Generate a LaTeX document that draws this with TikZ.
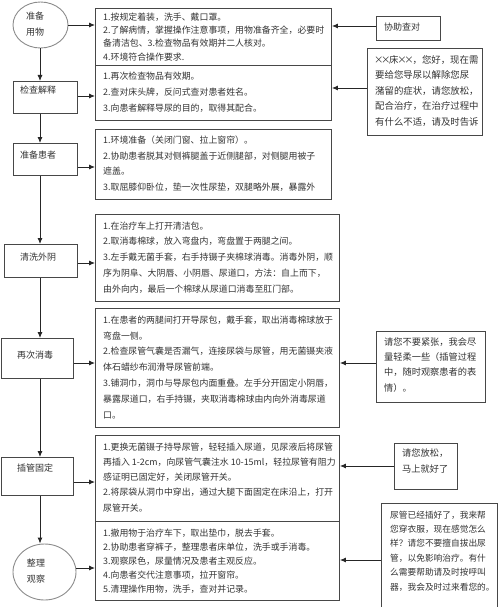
\documentclass[tikz,border=0pt]{standalone}
\usepackage{fontspec}
\setmainfont{Noto Sans CJK SC}
\usetikzlibrary{arrows.meta,shapes.geometric}
\newcommand{\xmark}{\makebox[7pt]{×}}
\begin{document}
\begin{tikzpicture}[x=1pt,y=-1pt,
  frame/.style={draw=black!72, line width=0.9pt, rectangle, inner sep=0pt, anchor=north west},
  oval/.style={draw=black!45, line width=0.9pt, ellipse, inner sep=0pt},
  arr/.style={draw=black!85, line width=0.9pt, -{Latex[length=6pt,width=5pt]}},
  body/.style={anchor=north west, inner sep=0pt, align=left, text=black!80},
  tag/.style={anchor=west, inner sep=0pt, text=black!80, font=\fontsize{9}{11}\selectfont}
]
\useasboundingbox (0,0) rectangle (500,607);
\fill[white] (0,0) rectangle (500,607);

% ---------- left column ----------
\node[oval, minimum width=55, minimum height=46] (E1) at (40.5,25) {};
\node[tag, anchor=center, align=center, font=\fontsize{9}{16}\selectfont] (E1t) at (35,24) {准备\\用物};
\node[frame, minimum width=64, minimum height=32] (L2) at (13,81) {};
\node[tag] (L2t) at (20,90) {检查解释};
\node[frame, minimum width=64, minimum height=32] (L3) at (13,143) {};
\node[tag] (L3t) at (20,155) {准备患者};
\node[frame, minimum width=73, minimum height=33] (L4) at (4,244) {};
\node[tag] (L4t) at (20,257) {清洗外阴};
\node[frame, minimum width=72.5, minimum height=40] (L5) at (0.5,338) {};
\node[tag] (L5t) at (17,355) {再次消毒};
\node[frame, minimum width=72.5, minimum height=38] (L6) at (0.5,457) {};
\node[tag] (L6t) at (17,468) {插管固定};
\node[oval, minimum width=63, minimum height=56] (E7) at (44.5,572) {};
\node[tag, anchor=center, align=center, font=\fontsize{9}{16}\selectfont] (E7t) at (36,571) {整理\\观察};

% ---------- detail boxes ----------
\node[frame, minimum width=236, minimum height=57] (b1) at (95,8) {};
\node[frame, minimum width=236, minimum height=55] (b2) at (95,65) {};
\node[frame, minimum width=236, minimum height=70] (b3) at (95,129) {};
\node[frame, minimum width=244, minimum height=87] (b4) at (95,214) {};
\node[frame, minimum width=244, minimum height=119] (b5) at (95,308) {};
\node[frame, minimum width=244, minimum height=86] (b6) at (95,435) {};
\node[frame, minimum width=244, minimum height=79] (b7) at (95,521) {};

\node[body, font=\fontsize{8.9}{13.3}\selectfont] (b1t) at (103,12.5) {1.按规定着装，洗手、戴口罩。\\2.了解病情，掌握操作注意事项，用物准备齐全，必要时\\备清洁包、3.检查物品有效期并二人核对。\\4.环境符合操作要求.};
\node[body, font=\fontsize{8.9}{16}\selectfont] (b2t) at (103,71.5) {1.再次检查物品有效期。\\2.查对床头牌，反问式查对患者姓名。\\3.向患者解释导尿的目的，取得其配合。};
\node[body, font=\fontsize{8.9}{15.7}\selectfont] (b3t) at (103,135.5) {1.环境准备（关闭门窗、拉上窗帘）。\\2.协助患者脱其对侧裤腿盖于近侧腿部，对侧腿用被子\\遮盖。\\3.取屈膝仰卧位，垫一次性尿垫，双腿略外展，暴露外};
\node[body, font=\fontsize{8.9}{15.75}\selectfont] (b4t) at (103,221.5) {1.在治疗车上打开清洁包。\\2.取消毒棉球，放入弯盘内，弯盘置于两腿之间。\\3.左手戴无菌手套，右手持镊子夹棉球消毒。消毒外阴，顺\\序为阴阜、大阴唇、小阴唇、尿道口，方法：自上而下，\\由外向内，最后一个棉球从尿道口消毒至肛门部。};
\node[body, font=\fontsize{8.9}{15.8}\selectfont] (b5t) at (103,315.5) {1.在患者的两腿间打开导尿包，戴手套，取出消毒棉球放于\\弯盘一侧。\\2.检查尿管气囊是否漏气，连接尿袋与尿管，用无菌镊夹液\\体石蜡纱布润滑导尿管前端。\\3.铺洞巾，洞巾与导尿包内面重叠。左手分开固定小阴唇，\\暴露尿道口，右手持镊，夹取消毒棉球由内向外消毒尿道\\口。};
\node[body, font=\fontsize{8.9}{15.2}\selectfont] (b6t) at (103,442.5) {1.更换无菌镊子持导尿管，轻轻插入尿道，见尿液后将尿管\\再插入 1-2cm，向尿管气囊注水 10-15ml，轻拉尿管有阻力\\感证明已固定好，关闭尿管开关。\\2.将尿袋从洞巾中穿出，通过大腿下面固定在床沿上，打开\\尿管开关。};
\node[body, font=\fontsize{8.9}{14}\selectfont] (b7t) at (103,528.5) {1.撤用物于治疗车下，取出垫巾，脱去手套。\\2.协助患者穿裤子，整理患者床单位，洗手或手消毒。\\3.观察尿色，尿量情况及患者主观反应。\\4.向患者交代注意事项，拉开窗帘。\\5.清理操作用物，洗手，查对并记录。};

% ---------- right column ----------
\node[frame, minimum width=64, minimum height=24] (T1) at (376,16) {};
\node[tag] (T1t) at (384,27) {协助查对};
\node[frame, minimum width=115, minimum height=87] (T2) at (367,48) {};
\node[body, font=\fontsize{9.4}{15.5}\selectfont] (T2t) at (375,55.3) {\xmark\xmark 床\xmark\xmark ，您好，现在需\\要给您导尿以解除您尿\\潴留的症状，请您放松，\\配合治疗，在治疗过程中\\有什么不适，请及时告诉};
\node[frame, minimum width=109, minimum height=71] (T3) at (376,331) {};
\node[body, font=\fontsize{9.2}{15.3}\selectfont] (T3t) at (384,337.4) {请您不要紧张，我会尽\\量轻柔一些（插管过程\\中，随时观察患者的表\\情）。};
\node[frame, minimum width=63, minimum height=46] (T4) at (394,443) {};
\node[body, font=\fontsize{9.2}{16}\selectfont] (T4t) at (402,448.4) {请您放松，\\马上就好了};
\node[frame, minimum width=116, minimum height=103.5] (T5) at (381,503) {};
\node[body, font=\fontsize{8.7}{14.4}\selectfont] (T5t) at (390,510.6) {尿管已经插好了，我来帮\\您穿衣服，现在感觉怎么\\样？请您不要擅自拔出尿\\管，以免影响治疗。有什\\么需要帮助请及时按呼叫\\器，我会及时过来看您的。};

% ---------- connector heights ----------
\coordinate (spine) at (40,0);
\coordinate (h1) at (0,25);
\coordinate (h2) at (0,96);
\coordinate (h3) at (0,167);
\coordinate (h4) at (0,263);
\coordinate (h5) at (0,363);
\coordinate (h6) at (0,482);
\coordinate (h7) at (0,568);
\coordinate (r1) at (0,26);
\coordinate (r2) at (0,88);
\coordinate (r3) at (0,363);
\coordinate (r4) at (0,466);
\coordinate (r5) at (0,560);

% ---------- vertical flow ----------
\draw[arr] (E1.south -| spine) -- (L2.north -| spine);
\draw[arr] (L2.south -| spine) -- (L3.north -| spine);
\draw[arr] (L3.south -| spine) -- (L4.north -| spine);
\draw[arr] (L4.south -| spine) -- (L5.north -| spine);
\draw[arr] (L5.south -| spine) -- (L6.north -| spine);
\draw[arr] (L6.south -| spine) -- (spine |- E7.north);

% ---------- left to detail ----------
\draw[arr] (E1.east |- h1) -- (b1.west |- h1);
\draw[arr] (L2.east |- h2) -- (b2.west |- h2);
\draw[arr] (L3.east |- h3) -- (b3.west |- h3);
\draw[arr] (L4.east |- h4) -- (b4.west |- h4);
\draw[arr] (L5.east |- h5) -- (b5.west |- h5);
\draw[arr] (L6.east |- h6) -- (b6.west |- h6);
\draw[arr] (E7.east |- h7) -- (b7.west |- h7);

% ---------- right to detail ----------
\draw[arr] (T1.west |- r1) -- (b1.east |- r1);
\draw[arr] (T2.west |- r2) -- (b2.east |- r2);
\draw[arr] (T3.west |- r3) -- (b5.east |- r3);
\draw[arr] (T4.west |- r4) -- (b6.east |- r4);
\draw[arr] (T5.west |- r5) -- (b7.east |- r5);
\end{tikzpicture}
\end{document}
